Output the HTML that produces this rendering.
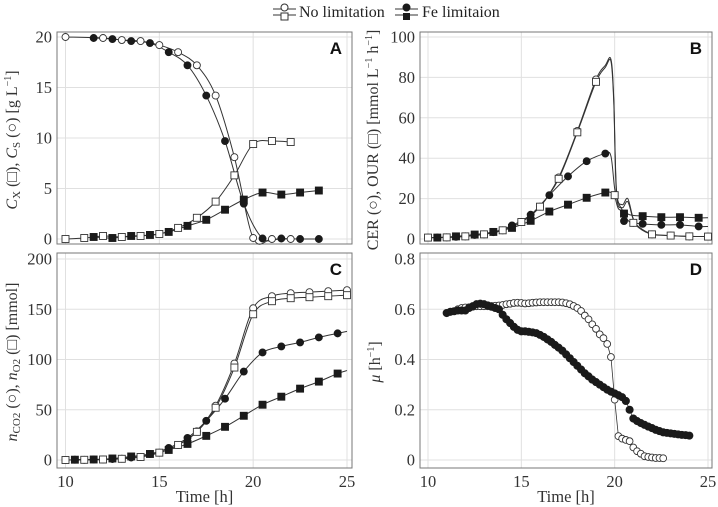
<!DOCTYPE html>
<html><head><meta charset="utf-8"><style>
body{margin:0;background:#fff}
svg{display:block;font-family:"Liberation Serif",serif}
</style></head><body>
<svg id="fig" width="718" height="507" viewBox="0 0 718 507" xmlns="http://www.w3.org/2000/svg">
<g id="legend">
  <g>
    <line x1="273" y1="9" x2="296" y2="9" stroke="#333"/><line x1="273" y1="15" x2="296" y2="15" stroke="#333"/>
    <circle cx="284.5" cy="7.5" r="3.5" fill="#fff" stroke="#333"/><rect x="281" y="13" width="7" height="7" fill="#fff" stroke="#333"/>
    <text x="299" y="17" font-size="16" fill="#222">No limitation</text>
  </g>
  <g>
    <line x1="395" y1="9" x2="418" y2="9" stroke="#333"/><line x1="395" y1="15" x2="418" y2="15" stroke="#333"/>
    <circle cx="406.5" cy="7.5" r="3.5" fill="#1a1a1a" stroke="#1a1a1a"/><rect x="403" y="13" width="7" height="7" fill="#1a1a1a"/>
    <text x="422" y="17" font-size="16" fill="#222">Fe limitaion</text>
  </g>
</g>
</svg>
<script>
// Panel A: substrate (circles) and biomass (squares)
const aOpenCircT=[10,12,13,14,15,16,17,18,19,20,21,22];
const aOpenCircV=[20,19.9,19.7,19.6,19.2,18.5,17.2,14.2,8.1,0.1,0,0];
const aFillCircT=[11.5,12.5,13.5,14.5,15.5,16.5,17.5,18.5,19.5,20.5,21.5,22.5,23.5];
const aFillCircV=[19.9,19.8,19.6,19.4,18.5,17.2,14.2,9.7,3.5,0.05,0.05,0,0];
const aOpenSqT=[10,11,12,13,14,15,16,17,18,19,20,21,22];
const aOpenSqV=[0,0.1,0.3,0.2,0.3,0.5,1.1,2.1,3.7,6.3,9.4,9.7,9.6];
const aFillSqT=[11.5,12.5,13.5,14.5,15.5,16.5,17.5,18.5,19.5,20.5,21.5,22.5,23.5];
const aFillSqV=[0.2,0.1,0.3,0.4,0.7,1.3,1.9,2.9,3.9,4.6,4.4,4.6,4.8];
const aTicks=[0,5,10,15,20];
// Panel B: CER (circles) / OUR (squares)
const bOpenT=[10,11,12,13,14,15,16,17,18,19,20,21,22,23,24,25];
const bOpenCircV=[0.7,0.8,1.3,2.3,4.3,8.4,16,30.5,53.5,79,21.7,8,2.3,1.7,1.3,1.2];
const bOpenSqV=[0.7,0.8,1.3,2.3,4.3,8.4,16,29.8,52.8,77.8,21.7,8,2.3,1.7,1.3,1.2];
const bFillT=[10.5,11.5,12.5,13.5,14.5,15.5,16.5,17.5,18.5,19.5,20.5,21.5,22.5,23.5,24.5];
const bFillCircV=[0.7,1.1,2.0,3.4,6.7,12,21.7,31,38.5,42.3,8.9,7.5,7,7,6.2];
const bFillSqV=[0.7,1.3,2.2,3.5,5.5,9,13.6,17,20.4,23,12.6,11.3,10.8,10.8,10.5];
const bFitOpenT=[10,11,12,13,14,15,16,17,18,19,19.5,19.8,19.95,20.1,20.4,20.7,21.0,21.3,22,23,24,25];
const bFitCircV=[0.7,0.8,1.3,2.3,4.3,8.4,16,30.5,53.5,79,86,89,70,24,17,20,10,6,2.5,1.7,1.3,1.2];
const bFitSqV=[0.7,0.8,1.3,2.3,4.3,8.4,16,29.8,52.8,77.8,85,88,68,22,15.5,18.5,9.5,5.5,2.3,1.7,1.3,1.2];
const bFitFillT=[10.5,11.5,12.5,13.5,14.5,15.5,16.5,17.5,18.5,19.5,19.8,20.0,20.2,20.5,20.8,21.5,22.5,23.5,24.5,25];
const bFitFillCircV=[0.7,1.1,2.0,3.4,6.7,12,21.7,31,38.5,42.3,41,25,18,13,8.5,7.5,7,7,6.2,6.2];
const bFitFillSqV=[0.7,1.3,2.2,3.5,5.5,9,13.6,17,20.4,23,23,21,15,14,12,11.3,10.8,10.8,10.5,10.5];
const bTicks=[0,20,40,60,80,100];
// Panel C: cumulative CO2 / O2
const cOpenT=[10,11,12,13,14,15,16,17,18,19,20,21,22,23,24,25];
const cOpenCircV=[0,0.2,0.5,1.3,3,7.3,15,28.5,54,96,151,163,166,167,168,169];
const cOpenSqV=[0,0.2,0.5,1.2,3,7.3,15,28,52,92,145,158,161,162,163,164];
const cFillT=[10.5,11.5,12.5,13.5,14.5,15.5,16.5,17.5,18.5,19.5,20.5,21.5,22.5,23.5,24.5];
const cFillCircV=[0.3,0.5,1,2.5,6,12,22,39,61,88,107,113,117,122,126];
const cFillSqV=[0.3,0.5,1.5,3.5,6,10,16,24,33,44,55,63,71,78,86];
const cTicks=[0,50,100,150,200];
// Panel D: growth rate
const dFillT=[11.0,11.2,11.4,11.6,11.8,12.0,12.2,12.4,12.6,12.8,13.0,13.2,13.4,13.6,13.8,14.0,14.2,14.4,14.6,14.8,15.0,15.2,15.4,15.6,15.8,16.0,16.2,16.4,16.6,16.8,17.0,17.2,17.4,17.6,17.8,18.0,18.2,18.4,18.6,18.8,19.0,19.2,19.4,19.6,19.8,20.0,20.2,20.4,20.6,20.8,21.0,21.2,21.4,21.6,21.8,22.0,22.2,22.4,22.6,22.8,23.0,23.2,23.4,23.6,23.8,24.0];
const dFillV=[0.585,0.59,0.592,0.595,0.595,0.595,0.605,0.612,0.62,0.622,0.62,0.615,0.61,0.605,0.6,0.578,0.56,0.545,0.53,0.518,0.512,0.512,0.51,0.508,0.505,0.498,0.49,0.48,0.47,0.458,0.447,0.435,0.42,0.405,0.39,0.375,0.36,0.345,0.333,0.32,0.31,0.3,0.29,0.28,0.272,0.265,0.258,0.25,0.235,0.2,0.165,0.155,0.147,0.14,0.133,0.127,0.12,0.115,0.11,0.108,0.106,0.104,0.102,0.1,0.099,0.097];
const dOpenT=[11.6,11.8,12.0,12.2,12.4,12.6,12.8,13.0,13.2,13.4,13.6,13.8,14.0,14.2,14.4,14.6,14.8,15.0,15.2,15.4,15.6,15.8,16.0,16.2,16.4,16.6,16.8,17.0,17.2,17.4,17.6,17.8,18.0,18.2,18.4,18.6,18.8,19.0,19.2,19.4,19.6,19.8,20.0,20.2,20.4,20.6,20.8,21.0,21.2,21.4,21.6,21.8,22.0,22.2,22.4,22.6];
const dOpenV=[0.6,0.605,0.607,0.608,0.61,0.612,0.612,0.612,0.612,0.613,0.614,0.615,0.617,0.62,0.622,0.625,0.626,0.625,0.623,0.624,0.626,0.627,0.628,0.628,0.628,0.628,0.628,0.628,0.627,0.624,0.62,0.613,0.605,0.593,0.575,0.56,0.54,0.522,0.5,0.485,0.462,0.41,0.24,0.095,0.085,0.08,0.075,0.05,0.035,0.025,0.015,0.012,0.01,0.008,0.008,0.007];
const dTicks=[0,0.2,0.4,0.6,0.8];
const xTicks=[10,15,20,25];

const NS='http://www.w3.org/2000/svg';
const svg=document.getElementById('fig');
function mk(tag,attrs,parent){const e=document.createElementNS(NS,tag);for(const k in attrs)e.setAttribute(k,attrs[k]);(parent||svg).appendChild(e);return e;}

function panel(cfg){
  const g=mk('g',{});
  
  
  const xs=t=>cfg.px0+(t-10)*(cfg.px1-cfg.px0)/15;
  const ys=v=>cfg.py0-(v-cfg.ymin)*(cfg.py0-cfg.py1)/(cfg.ymax-cfg.ymin);
  mk('rect',{x:cfg.fx0,y:cfg.fy0,width:cfg.fx1-cfg.fx0,height:cfg.fy1-cfg.fy0,fill:'#fff'},g);
  xTicks.forEach(t=>{const l=mk('line',{x1:xs(t),x2:xs(t),y1:cfg.fy0,y2:cfg.fy1,stroke:'#e0e0e0','stroke-width':1},g);
    });
  cfg.ticks.forEach(v=>{const l=mk('line',{x1:cfg.fx0,x2:cfg.fx1,y1:ys(v),y2:ys(v),stroke:'#e0e0e0','stroke-width':1},g);
    
    const tx=mk('text',{x:cfg.fx0-5,y:ys(v)+5.5,'text-anchor':'end','font-size':16.5,fill:'#333'},g);
    tx.textContent=String(v);
    });
  if(cfg.xlabels){xTicks.forEach(t=>{const tx=mk('text',{x:xs(t),y:cfg.fy1+19,'text-anchor':'middle','font-size':16.5,fill:'#333'},g);
    tx.textContent=String(t);
    });
    const xl=mk('text',{x:(cfg.fx0+cfg.fx1)/2,y:cfg.fy1+34,'text-anchor':'middle','font-size':16.5,fill:'#333'},g);
    xl.textContent='Time [h]';
    }
  const fr=mk('rect',{x:cfg.fx0,y:cfg.fy0,width:cfg.fx1-cfg.fx0,height:cfg.fy1-cfg.fy0,fill:'none',stroke:'#777','stroke-width':1},g);
  
  const lt=mk('text',{x:cfg.fx1-10,y:cfg.fy0+22,'text-anchor':'end','font-size':17,'font-weight':'bold','font-family':'Liberation Sans, sans-serif',fill:'#111'},g);
  lt.textContent=cfg.letter;
  
  return {g,xs,ys};
}
function curve(p,T,V,name,smooth,w){
  const pts=T.map((t,i)=>[p.xs(t),p.ys(V[i])]);
  let d='M'+pts[0][0]+','+pts[0][1];
  for(let i=0;i<pts.length-1;i++){
    if(!smooth){d+='L'+pts[i+1][0]+','+pts[i+1][1];continue;}
    const p0=pts[Math.max(0,i-1)],p1=pts[i],p2=pts[i+1],p3=pts[Math.min(pts.length-1,i+2)];
    const c1=[p1[0]+(p2[0]-p0[0])/6,p1[1]+(p2[1]-p0[1])/6],c2=[p2[0]-(p3[0]-p1[0])/6,p2[1]-(p3[1]-p1[1])/6];
    d+='C'+c1[0]+','+c1[1]+' '+c2[0]+','+c2[1]+' '+p2[0]+','+p2[1];
  }
  const e=mk('path',{d,fill:'none',stroke:'#333','stroke-width':w||1},p.g);
  
  
}
function marks(p,T,V,shape,filled,name,r){
  r=r||3.5;
  T.forEach((t,i)=>{const x=p.xs(t),y=p.ys(V[i]);let e;
    if(shape==='c')e=mk('circle',{cx:x,cy:y,r:r,fill:filled?'#1a1a1a':'#fff',stroke:filled?'#1a1a1a':'#333','stroke-width':0.9},p.g);
    else e=mk('rect',{x:x-r,y:y-r,width:2*r,height:2*r,fill:filled?'#1a1a1a':'#fff',stroke:filled?'#1a1a1a':'#333','stroke-width':0.9},p.g);
    
    
  });
}
function ylabel(x,y,html,name){
  const t=mk('text',{x:0,y:0,transform:`translate(${x},${y}) rotate(-90)`,'text-anchor':'middle','font-size':16,fill:'#333'});
  t.innerHTML=html;
  
  
}

const A=panel({name:'panel-a',letter:'A',fx0:57,fx1:352,fy0:32,fy1:244,px0:65.5,px1:347,py0:239,py1:37,ymin:0,ymax:20,ticks:aTicks});
curve(A,aOpenCircT,aOpenCircV,'line-substrate-no-limitation',true);
curve(A,aFillCircT,aFillCircV,'line-substrate-fe-limitation',true);
curve(A,aOpenSqT,aOpenSqV,'line-biomass-no-limitation',true);
curve(A,aFillSqT,aFillSqV,'line-biomass-fe-limitation',true);
marks(A,aOpenCircT,aOpenCircV,'c',false,'point-substrate-no-limitation');
marks(A,aFillCircT,aFillCircV,'c',true,'point-substrate-fe-limitation');
marks(A,aOpenSqT,aOpenSqV,'s',false,'point-biomass-no-limitation');
marks(A,aFillSqT,aFillSqV,'s',true,'point-biomass-fe-limitation');

const B=panel({name:'panel-b',letter:'B',fx0:420,fx1:712,fy0:32,fy1:244,px0:428,px1:708,py0:239,py1:37,ymin:0,ymax:100,ticks:bTicks});
curve(B,bFitOpenT,bFitCircV,'line-cer-no-limitation',true);
curve(B,bFitOpenT,bFitSqV,'line-our-no-limitation',true);
curve(B,bFitFillT,bFitFillCircV,'line-cer-fe-limitation',true);
curve(B,bFitFillT,bFitFillSqV,'line-our-fe-limitation',true);
marks(B,bOpenT,bOpenCircV,'c',false,'point-cer-no-limitation');
marks(B,bFillT,bFillCircV,'c',true,'point-cer-fe-limitation');
marks(B,bFillT,bFillSqV,'s',true,'point-our-fe-limitation');
marks(B,bOpenT,bOpenSqV,'s',false,'point-our-no-limitation');

const C=panel({name:'panel-c',letter:'C',fx0:57,fx1:352,fy0:253,fy1:468,px0:65.5,px1:347,py0:460,py1:259,ymin:0,ymax:200,ticks:cTicks,xlabels:true});
curve(C,cOpenT,cOpenCircV,'line-co2-no-limitation',true);
curve(C,cOpenT,cOpenSqV,'line-o2-no-limitation',true);
curve(C,cFillT.concat([25]),cFillCircV.concat([128]),'line-co2-fe-limitation',true);
curve(C,cFillT.concat([25]),cFillSqV.concat([89]),'line-o2-fe-limitation',true);
marks(C,cOpenT,cOpenCircV,'c',false,'point-co2-no-limitation');
marks(C,cOpenT,cOpenSqV,'s',false,'point-o2-no-limitation');
marks(C,cFillT,cFillCircV,'c',true,'point-co2-fe-limitation');
marks(C,cFillT,cFillSqV,'s',true,'point-o2-fe-limitation');

const D=panel({name:'panel-d',letter:'D',fx0:420,fx1:712,fy0:253,fy1:468,px0:428,px1:708,py0:460,py1:259,ymin:0,ymax:0.8,ticks:dTicks,xlabels:true});
curve(D,dOpenT,dOpenV,'line-mu-no-limitation',false,0.8);
curve(D,dFillT,dFillV,'line-mu-fe-limitation',false,0.8);
marks(D,dOpenT,dOpenV,'c',false,'point-mu-no-limitation',3.4);
marks(D,dFillT,dFillV,'c',true,'point-mu-fe-limitation',3.6);

ylabel(17,140,'<tspan font-style="italic">C</tspan><tspan font-size="11" dy="3">X</tspan><tspan dy="-3"> (□), </tspan><tspan font-style="italic">C</tspan><tspan font-size="11" dy="3">S</tspan><tspan dy="-3"> (○) [g L</tspan><tspan font-size="10" dy="-6">−1</tspan><tspan dy="6">]</tspan>','y-axis-title-a');
ylabel(378,140,'CER (○), OUR (□) [mmol L<tspan font-size="10" dy="-6">−1</tspan><tspan dy="6"> h</tspan><tspan font-size="10" dy="-6">−1</tspan><tspan dy="6">]</tspan>','y-axis-title-b');
ylabel(17,362,'<tspan font-style="italic">n</tspan><tspan font-size="11" dy="3">CO2</tspan><tspan dy="-3"> (○), </tspan><tspan font-style="italic">n</tspan><tspan font-size="11" dy="3">O2</tspan><tspan dy="-3"> (□) [mmol]</tspan>','y-axis-title-c');
ylabel(380,362,'<tspan font-style="italic">μ</tspan> [h<tspan font-size="10" dy="-6">−1</tspan><tspan dy="6">]</tspan>','y-axis-title-d');
</script>
</body></html>
